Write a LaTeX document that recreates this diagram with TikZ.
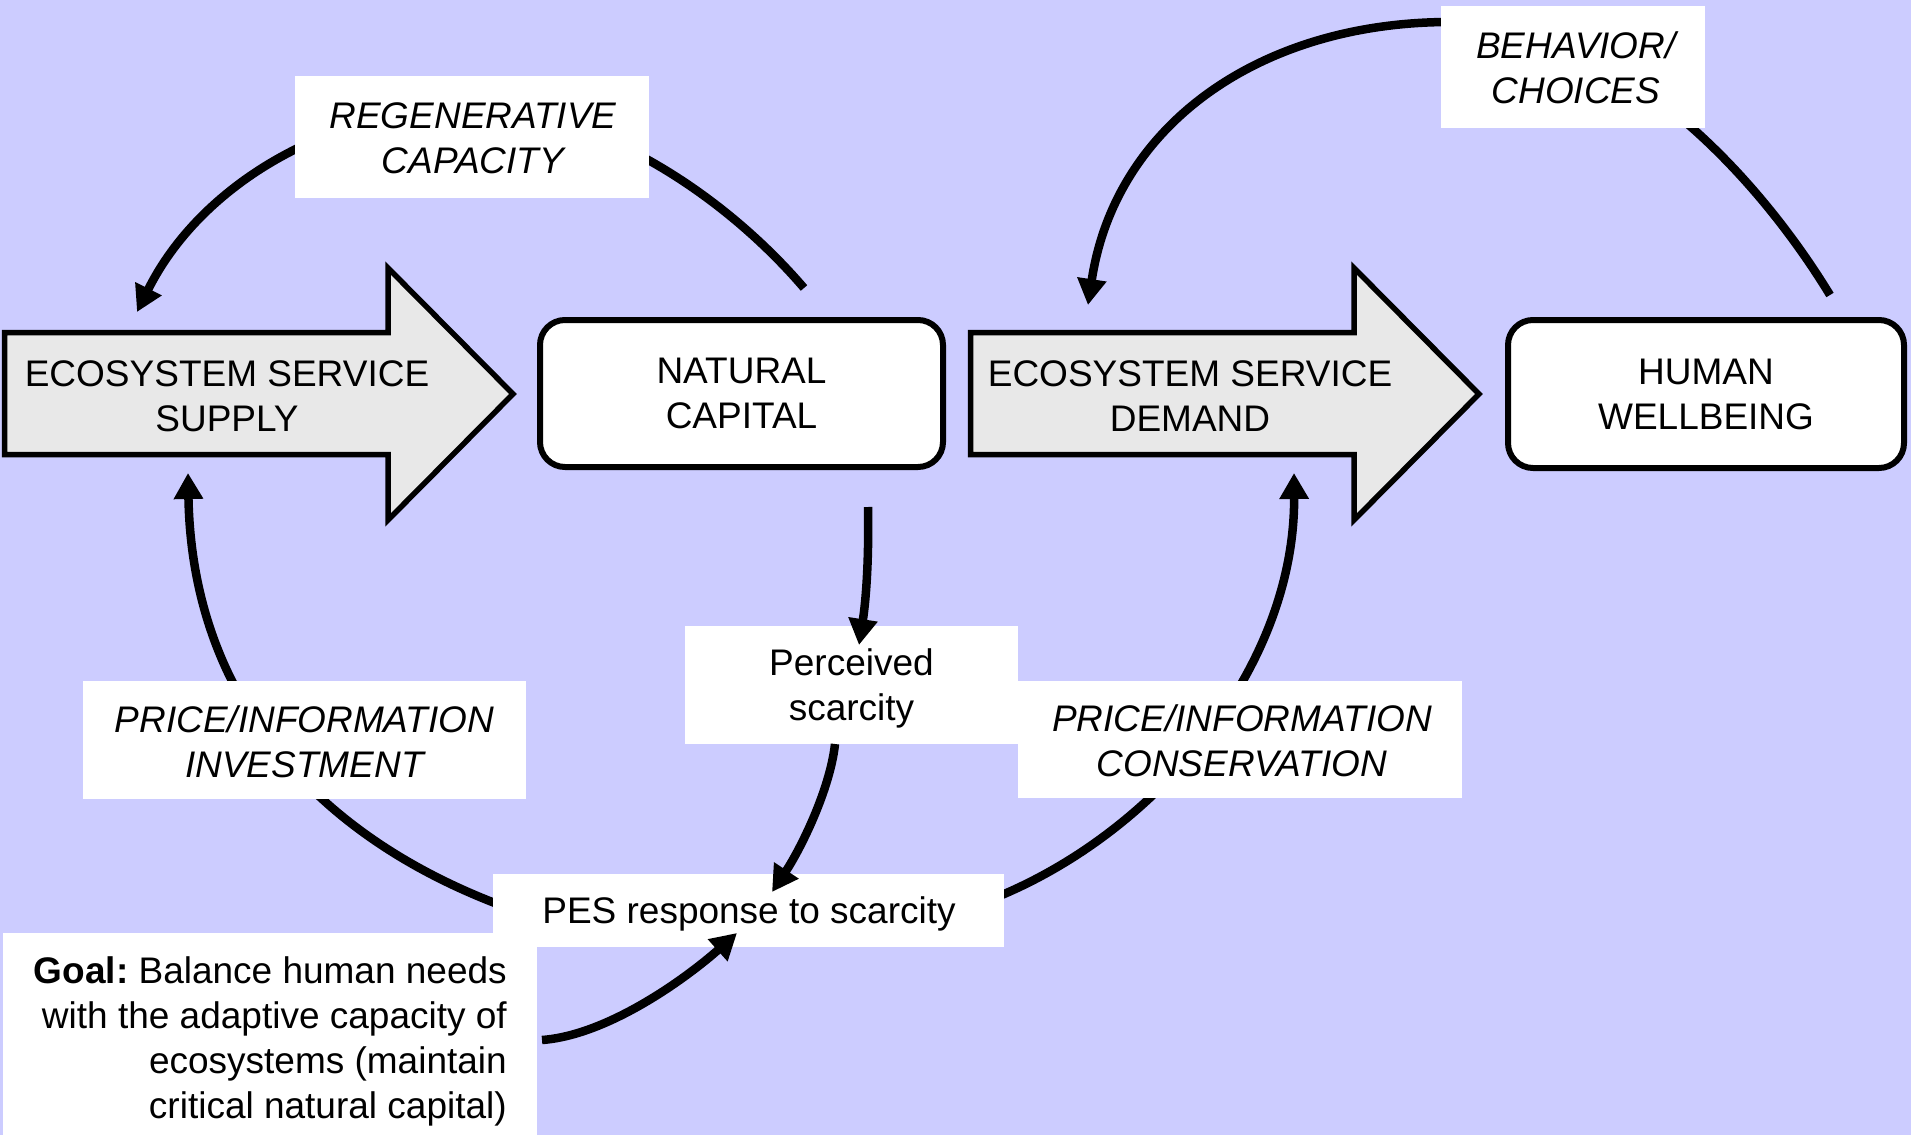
\documentclass[tikz,border=0pt]{standalone}
\usepackage{fontspec}
\setmainfont{Liberation Sans}
\usetikzlibrary{arrows.meta}
\definecolor{bgblue}{RGB}{204,204,255}
\definecolor{arrowgray}{RGB}{232,232,232}
\frenchspacing
\begin{document}
\begin{tikzpicture}[x=1pt,y=-1pt,
  conn/.style={line width=8.5pt,-{Triangle[length=26pt,width=28pt]}},
  blockarrow/.style={draw=black,line width=5.5pt,fill=arrowgray},
  rbox/.style={draw=black,line width=6pt,fill=white,rounded corners=25pt,inner sep=0pt},
  wbox/.style={fill=white,inner sep=0pt},
  txt/.style={font=\fontsize{37}{45}\selectfont,align=center,inner sep=0pt},
  itxt/.style={txt,font=\fontsize{37}{45}\selectfont\itshape}]
\fill[bgblue] (0,0) rectangle (1911,1135);
\useasboundingbox (0,0) rectangle (1911,1135);

% block arrows
\draw[blockarrow] (4.5,332.5) -- (388,332.5) -- (388,268) -- (513,394) -- (388,520) -- (388,454.5) -- (4.5,454.5) -- cycle;
\draw[blockarrow] (970.5,332.5) -- (1354,332.5) -- (1354,268) -- (1479,394) -- (1354,520) -- (1354,454.5) -- (970.5,454.5) -- cycle;
\node[txt,anchor=base] (supply) at (227,431) {ECOSYSTEM SERVICE\\SUPPLY};
\node[txt,anchor=base] (demand) at (1190,431) {ECOSYSTEM SERVICE\\DEMAND};

% rounded boxes
\node[rbox,txt,minimum width=403pt,minimum height=147pt] (nc) at (741.5,393.5) {NATURAL\\CAPITAL};
\node[rbox,txt,minimum width=396pt,minimum height=148pt] (hw) at (1706,394) {HUMAN\\WELLBEING};

% background loops
\coordinate (regenS) at (804,288);
\coordinate (regenE) at (137,312);
\draw[conn] (regenS) .. controls (720,190) and (590,108) .. (470,108) .. controls (330,108) and (200,185) .. (regenE);
\coordinate (behS) at (1830,295);
\coordinate (behE) at (1088,305);
\draw[conn] (behS) .. controls (1760,180) and (1620,22) .. (1450,22) .. controls (1260,22) and (1115,125) .. (behE);
\coordinate (invS) at (500,905);
\coordinate (invE) at (188,473);
\draw[conn] (invS) .. controls (310,833) and (192,693) .. (invE);
\coordinate (conS) at (997,897);
\coordinate (conE) at (1294,473);
\draw[conn] (conS) .. controls (1160,830) and (1295,665) .. (conE);

% label boxes
\node[wbox,minimum width=354pt,minimum height=122pt] (regenbox) at (472,137) {};
\node[itxt,anchor=base] (regen) at (473,173) {REGENERATIVE\\CAPACITY};
\node[wbox,minimum width=264pt,minimum height=122pt] (behbox) at (1573,67) {};
\node[itxt,anchor=base] (beh) at (1576,103) {BEHAVIOR/\\CHOICES};
\node[wbox,minimum width=443pt,minimum height=118pt] (invbox) at (304.5,740) {};
\node[itxt,anchor=base] (inv) at (304.5,777) {PRICE/INFORMATION\\INVESTMENT};
\node[wbox,minimum width=444pt,minimum height=117pt] (conbox) at (1240,739.5) {};
\node[itxt,anchor=base] (con) at (1242,776) {PRICE/INFORMATION\\CONSERVATION};
\node[wbox,minimum width=333pt,minimum height=118pt] (percbox) at (851.5,685) {};
\node[txt,anchor=base] (perc) at (851.5,720) {Perceived\\scarcity};
\node[wbox,minimum width=534pt,minimum height=202pt] (goalbox) at (270,1034) {};
\node[wbox,minimum width=511pt,minimum height=73pt] (pesbox) at (748.5,910.5) {};
\node[txt,anchor=base] (pes) at (749,923) {PES response to scarcity};
\node[txt,align=right,anchor=base east] (goal) at (507,1118) {\textbf{Goal:} Balance human needs\\with the adaptive capacity of\\ecosystems (maintain\\critical natural capital)};

% front arrows
\coordinate (ncpS) at (868,507);
\coordinate (ncpE) at (859,645);
\draw[conn] (ncpS) .. controls (869,560) and (866,600) .. (ncpE);
\coordinate (ppS) at (835,744);
\coordinate (ppE) at (772,892);
\draw[conn] (ppS) .. controls (830,790) and (800,850) .. (ppE);
\coordinate (gpS) at (542,1040);
\coordinate (gpE) at (737,933);
\draw[conn] (gpS) .. controls (610,1035) and (690,975) .. (gpE);
\end{tikzpicture}
\end{document}
